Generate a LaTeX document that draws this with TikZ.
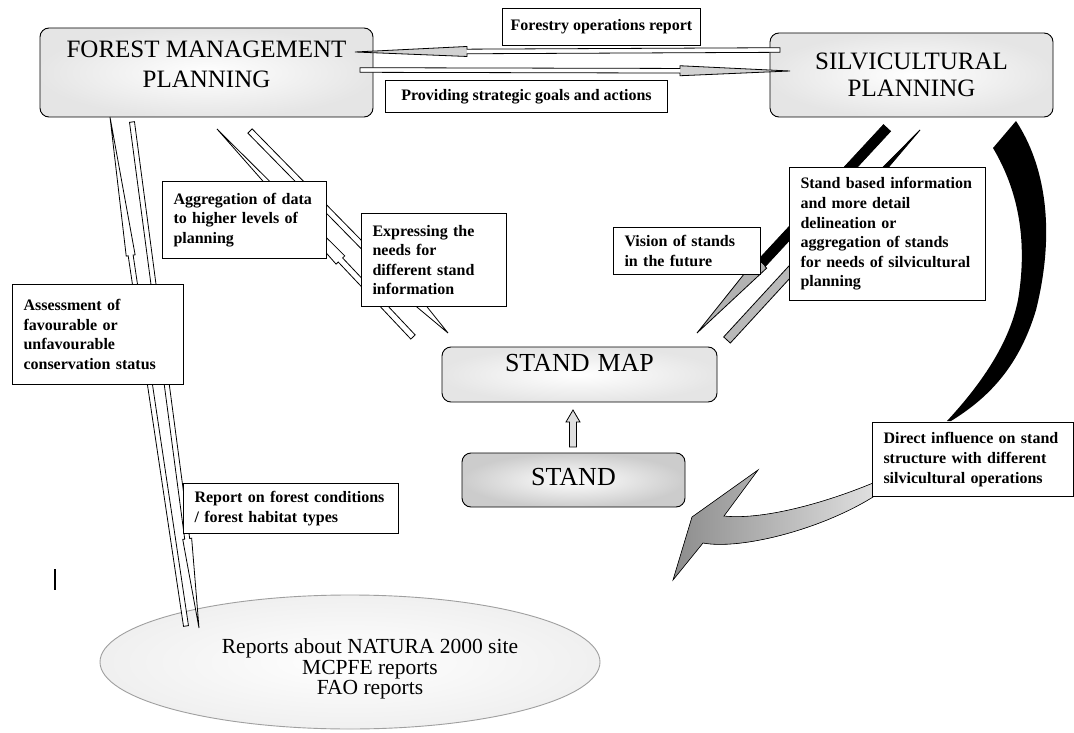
\documentclass[tikz,border=0pt]{standalone}
\usepackage{fontspec}
\setmainfont{Liberation Serif}
\usetikzlibrary{calc,shapes.geometric}
\newcommand{\liftby}[2]{\raisebox{#1}[\height][\depth]{#2}}
% tail, tip, half shaft, half head, head length, shaft fill, head fill, name
\newcommand{\blockarr}[8]{%
  \coordinate (#8h) at ($(#2)!#5!(#1)$);
  \fill[#6] ($(#1)!#3!90:(#2)$) -- ($(#8h)!#3!90:(#2)$) -- ($(#8h)!#3!-90:(#2)$) -- ($(#1)!#3!-90:(#2)$) -- cycle;
  \fill[#7] ($(#8h)!#4!90:(#2)$) -- (#2) -- ($(#8h)!#4!-90:(#2)$) -- cycle;
  \draw[arrline] ($(#1)!#3!90:(#2)$) -- ($(#8h)!#3!90:(#2)$) -- ($(#8h)!#4!90:(#2)$) -- (#2) -- ($(#8h)!#4!-90:(#2)$) -- ($(#8h)!#3!-90:(#2)$) -- ($(#1)!#3!-90:(#2)$) -- cycle;
}
\tikzset{
  arrline/.style={draw=black, line width=0.8pt, line join=miter},
  lbl/.style={draw=black, line width=1pt, fill=white, font=\bfseries\fontsize{16}{19.6}\selectfont,
    align=left, inner xsep=11pt, inner ysep=0pt, anchor=north west},
  lblc/.style={draw=black, line width=1pt, fill=white, font=\bfseries\fontsize{16}{19.6}\selectfont,
    align=center, inner sep=0pt, anchor=north west},
  big/.style={draw=black, line width=0.9pt, rounded corners=9pt, align=center,
    inner color=white, outer color=gray!20},
}
\begin{document}
\begin{tikzpicture}[x=1pt,y=-1pt]
\useasboundingbox (0,0) rectangle (1074,733);
\fill[white] (0,0) rectangle (1074,733);

% main boxes
\node[big, minimum width=333pt, minimum height=89pt, font=\fontsize{25}{30}\selectfont] (fmp) at (206.5,72.5)
  {\liftby{6pt}{\begin{tabular}{@{}c@{}}FOREST MANAGEMENT\\PLANNING\end{tabular}}};
\node[big, minimum width=283pt, minimum height=84pt, font=\fontsize{25}{27}\selectfont] (silv) at (911.5,75)
  {SILVICULTURAL\\PLANNING};
\node[big, minimum width=275pt, minimum height=55pt, font=\fontsize{26}{30}\selectfont] (smap) at (579.5,374.5)
  {\liftby{11pt}{STAND\hspace{8pt}MAP}};
\node[big, minimum width=223pt, minimum height=54pt, outer color=gray!40, font=\fontsize{26}{30}\selectfont] (stand) at (573.5,480)
  {\liftby{3pt}{STAND}};
\node[ellipse, draw=gray!75, line width=0.9pt, inner color=white, outer color=gray!12,
  minimum width=500pt, minimum height=134pt, align=center, font=\fontsize{21.5}{20.6}\selectfont] (rep) at (350,662)
  {\hspace*{40pt}\liftby{-8pt}{\begin{tabular}{@{}c@{}}Reports about NATURA 2000 site\\MCPFE reports\\FAO reports\end{tabular}}};

% stand -> stand map
\coordinate (s1) at (573,447);
\coordinate (s2) at (573,410);
\blockarr{s1}{s2}{3.5pt}{7pt}{12pt}{gray!25}{gray!25}{S}

% top arrows
\coordinate (op1) at (780,50);
\coordinate (op2) at (355,52);
\blockarr{op1}{op2}{2.3pt}{5pt}{112pt}{white}{gray!35}{OP}
\coordinate (ps1) at (360,70);
\coordinate (ps2) at (790,71);
\blockarr{ps1}{ps2}{2.3pt}{5pt}{110pt}{white}{gray!35}{PS}

% left long arrows
\coordinate (e1) at (186,626);
\coordinate (e2) at (110,117);
\blockarr{e1}{e2}{2.5pt}{4.5pt}{140pt}{white}{white}{E}
\coordinate (f1) at (132,122);
\coordinate (f2) at (199,628);
\blockarr{f1}{f2}{2.5pt}{4.5pt}{90pt}{white}{white}{F}

% diagonal arrows FMP <-> stand map
\coordinate (a1) at (413,337);
\coordinate (a2) at (217,129);
\blockarr{a1}{a2}{3pt}{6pt}{180pt}{white}{white}{A}
\coordinate (b1) at (250,131);
\coordinate (b2) at (448,333);
\blockarr{b1}{b2}{3pt}{6pt}{60pt}{white}{white}{B}

% diagonal arrows silvicultural <-> stand map
\coordinate (c1) at (887,128);
\coordinate (c2) at (697,333);
\blockarr{c1}{c2}{4.8pt}{7pt}{95pt}{black}{gray!60}{C}
\coordinate (d1) at (727,340);
\coordinate (d2) at (920,130);
\blockarr{d1}{d2}{4.5pt}{6pt}{150pt}{gray!55}{black}{D}

% curved arrow
\fill[black] (1016,121) .. controls (1045,165) and (1056,230) .. (1036,310)
  .. controls (1018,370) and (985,400) .. (951,421)
  -- (947,421) .. controls (985,380) and (1010,340) .. (1018,300)
  .. controls (1028,240) and (1018,190) .. (993,148) -- cycle;
\filldraw[left color=gray!90, right color=gray!25, draw=black, line width=0.6pt]
  (873,483) .. controls (820,505) and (760,520) .. (724,516) -- (758,470)
  -- (692,517) -- (673,580) -- (703,543)
  .. controls (740,550) and (820,530) .. (873,497) -- cycle;

% labels
\node[lblc, minimum width=198pt, minimum height=37pt] (fops) at (502,8) {Forestry operations report};
\node[lblc, minimum width=282pt, minimum height=32pt] (psga) at (385,80) {Providing strategic goals and actions};
\node[lbl, text width=142pt, minimum height=77pt] (agg) at (162,181) {Aggregation of data\\to higher levels of\\planning};
\node[lbl, text width=123pt, minimum height=93pt] (expr) at (361,213) {Expressing the\\needs for\\different stand\\information};
\node[lbl, text width=149pt, minimum height=100pt] (assess) at (12,284) {Assessment of\\favourable or\\unfavourable\\conservation status};
\node[lbl, text width=193pt, minimum height=50pt] (report) at (183,483) {Report on forest conditions\\/ forest habitat types};
\node[lbl, text width=125pt, minimum height=47pt] (vision) at (613,227) {Vision of stands\\in the future};
\node[lbl, text width=174pt, minimum height=133pt] (sbi) at (789,167) {Stand based information\\and more detail\\delineation or\\aggregation of stands\\for needs of silvicultural\\planning};
\node[lbl, text width=179pt, minimum height=74pt] (direct) at (872,422) {Direct influence on stand\\structure with different\\silvicultural operations};

% stray bar
\draw[line width=2pt] (55,569) -- (55,590);
\end{tikzpicture}
\end{document}
